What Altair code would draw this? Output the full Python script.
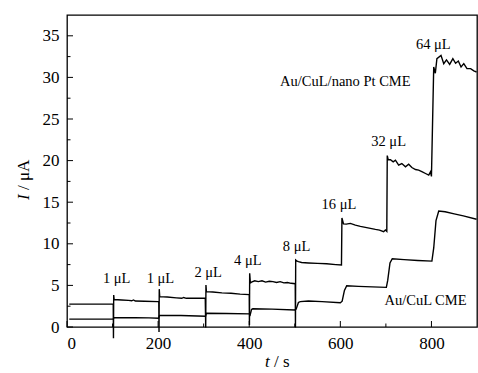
import altair as alt
import pandas as pd

# Au/CuL/nano Pt CME response (time in s, current in µA), including injection spikes
pt_t = [5, 101.5, 102, 102.5, 103.5, 120, 135, 142, 146, 150, 170, 200,
        201.5, 202, 202.5, 203.5, 220, 240, 252, 256, 262, 280, 303.5,
        304.5, 305, 306, 320, 340, 360, 380, 400,
        400.5, 401, 402.5, 405, 412, 420, 428, 436, 444, 452, 460, 468, 476, 484, 492, 501,
        501.5, 502, 504, 508, 515, 530, 550, 570, 590, 602.5,
        603.5, 607, 613, 622, 633, 644, 655, 666, 677, 686, 695, 699, 702,
        703, 705, 710, 716, 721, 728, 735, 743, 750, 757, 765, 772, 780, 787, 794, 798, 800,
        805, 808.5, 812, 821, 827, 833, 840, 847, 853, 859, 865, 871, 878, 886, 893, 899]
pt_i = [2.75, 2.75, -1.35, 3.85, 3.3, 3.25, 3.2, 3.15, 3.25, 3.12, 3.1, 3.05,
        3.05, -0.6, 4.55, 3.65, 3.6, 3.5, 3.45, 3.55, 3.45, 3.45, 3.45,
        -0.05, 5.05, 4.25, 4.2, 4.1, 4.05, 3.95, 3.9,
        0.25, 6.45, 5.3, 5.4, 5.55, 5.45, 5.55, 5.4, 5.5, 5.45, 5.35, 5.45, 5.3, 5.35, 5.25, 5.2,
        -0.05, 8.05, 7.95, 7.85, 7.75, 7.7, 7.65, 7.6, 7.5, 7.45,
        13.1, 12.4, 12.37, 12.45, 12.25, 12.1, 11.97, 11.85, 11.73, 11.65, 11.45, 11.65, 11.5,
        20.6, 20.1, 20.1, 19.85, 20.05, 19.45, 19.65, 19.25, 19.57, 19.17, 18.93, 18.85, 18.65, 18.45, 18.25, 18.65, 18.1,
        31.25, 30.5, 32.25, 32.65, 31.65, 32.1, 31.57, 32.25, 31.7, 31.97, 31.25, 31.65, 31.05, 31.05, 30.78, 30.65]

# Au/CuL CME response
cu_t = [5, 101.5, 103, 150, 180, 201, 203, 250, 304, 306, 350, 400, 402, 405, 408, 450, 500,
        503, 508, 512, 530, 560, 600, 604, 609, 614, 640, 670, 701, 704, 709, 714, 740, 770,
        801, 805, 810, 816, 830, 850, 870, 899]
cu_i = [0.95, 0.95, 1.12, 1.12, 1.1, 1.05, 1.4, 1.38, 1.3, 1.65, 1.62, 1.58, 1.44, 2.1, 2.2, 2.15, 2.05,
        2.15, 2.95, 3.05, 3.12, 3.05, 2.92, 3.1, 4.4, 4.96, 4.88, 4.82, 4.76, 5.6, 7.7, 8.2, 8.1, 8.0,
        7.92, 9.5, 12.8, 13.95, 13.85, 13.6, 13.35, 12.95]

# Injection volume labels and curve names
note_text = ["1 μL", "1 μL", "2 μL", "4 μL", "8 μL", "16 μL", "32 μL", "64 μL",
             "Au/CuL/nano Pt CME", "Au/CuL CME"]
note_t = [109, 205, 310, 397, 504, 597, 706, 804, 611, 787]
note_i = [5.76, 5.82, 6.48, 7.9, 9.64, 14.7, 22.25, 33.9, 29.5, 3.1]

x_major = [0, 200, 400, 600, 800]
x_minor = [100, 300, 500, 700]
y_major = [0, 5, 10, 15, 20, 25, 30, 35]
y_minor = [2.5, 7.5, 12.5, 17.5, 22.5, 27.5, 32.5]

FONT = "Liberation Serif"
W, H = 410, 312

curves = pd.concat([
    pd.DataFrame({"t": pt_t, "I": pt_i, "curve": "pt", "idx": range(len(pt_t))}),
    pd.DataFrame({"t": cu_t, "I": cu_i, "curve": "cu", "idx": range(len(cu_t))}),
])
notes = pd.DataFrame({"t": note_t, "I": note_i, "label": note_text})

xs = alt.Scale(domain=[0, 900], nice=False, zero=False)
ys = alt.Scale(domain=[0, 37.5], nice=False, zero=False)

lines = alt.Chart(curves).mark_line(color="black", strokeWidth=1.4).encode(
    x=alt.X("t:Q", scale=xs, axis=alt.Axis(
        values=x_major, title=None, grid=False, domain=False, ticks=False,
        labelFont=FONT, labelFontSize=17, labelColor="black", labelPadding=8)),
    y=alt.Y("I:Q", scale=ys, axis=alt.Axis(
        values=y_major, title=None, grid=False, domain=False, ticks=False,
        labelFont=FONT, labelFontSize=17, labelColor="black", labelPadding=8)),
    detail="curve:N",
    order="idx:Q",
)

text_layer = alt.Chart(notes).mark_text(
    font=FONT, fontSize=14.5, color="black", align="center", baseline="middle"
).encode(x=alt.X("t:Q", scale=xs), y=alt.Y("I:Q", scale=ys), text="label:N")

# inward tick marks
def yticks(vals, length):
    return alt.Chart(pd.DataFrame({"v": vals})).mark_rule(color="black", strokeWidth=1).encode(
        y=alt.Y("v:Q", scale=ys), x=alt.value(0), x2=alt.value(length))

def xticks(vals, length):
    return alt.Chart(pd.DataFrame({"v": vals})).mark_rule(color="black", strokeWidth=1).encode(
        x=alt.X("v:Q", scale=xs), y=alt.value(H), y2=alt.value(H - length))

# axis titles with italic symbols
y_sym = alt.Chart(pd.DataFrame({"s": ["I"]})).mark_text(
    font=FONT, fontSize=17, fontStyle="italic", angle=270, align="left", baseline="middle", color="black"
).encode(text="s:N", x=alt.value(-43), y=alt.value(185))
y_unit = alt.Chart(pd.DataFrame({"s": ["/ μA"]})).mark_text(
    font=FONT, fontSize=17, angle=270, align="left", baseline="middle", color="black"
).encode(text="s:N", x=alt.value(-43), y=alt.value(175))
x_sym = alt.Chart(pd.DataFrame({"s": ["t"]})).mark_text(
    font=FONT, fontSize=17, fontStyle="italic", align="left", baseline="alphabetic", color="black"
).encode(text="s:N", x=alt.value(198), y=alt.value(352))
x_unit = alt.Chart(pd.DataFrame({"s": ["/ s"]})).mark_text(
    font=FONT, fontSize=17, align="left", baseline="alphabetic", color="black"
).encode(text="s:N", x=alt.value(207), y=alt.value(352))

chart = alt.layer(
    lines, text_layer,
    yticks(y_major, 6), yticks(y_minor, 3.5),
    xticks(x_major, 6), xticks(x_minor, 3.5),
    y_sym, y_unit, x_sym, x_unit,
).properties(
    width=W, height=H,
    autosize=alt.AutoSizeParams(type="none"),
    padding={"left": 67, "top": 15, "right": 1, "bottom": 46},
    background="white",
).configure_view(stroke="black", strokeWidth=1.3)

chart.save("out.html", embed_options={"renderer": "svg", "actions": False})
